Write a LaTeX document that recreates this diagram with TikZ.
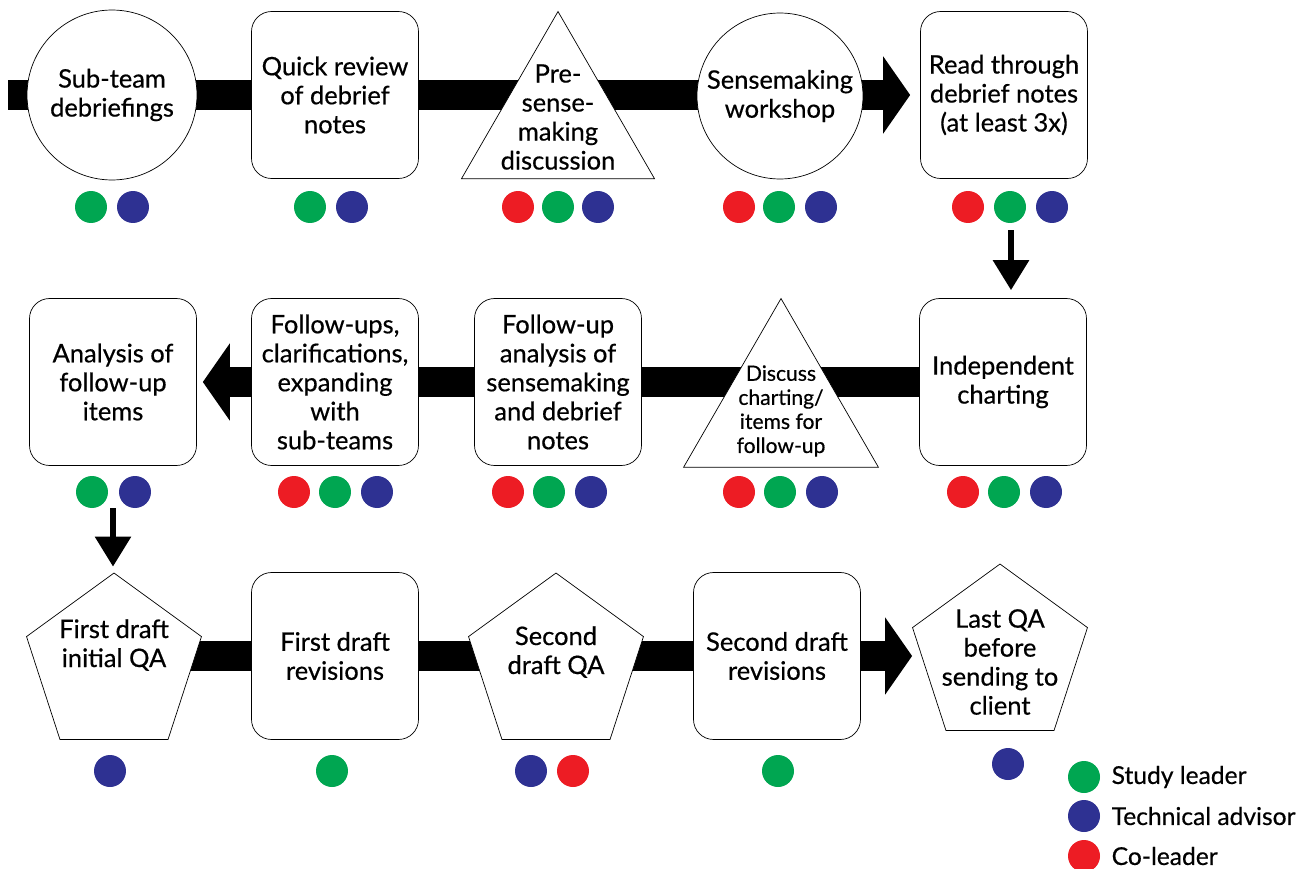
\documentclass[tikz,border=0pt]{standalone}
\usepackage{fontspec}
\setmainfont{Lato}[UprightFeatures={FakeBold=0.5}]
\usetikzlibrary{shapes.geometric,arrows.meta,backgrounds}
\definecolor{lead}{HTML}{00A651}
\definecolor{tech}{HTML}{2E3192}
\definecolor{colead}{HTML}{ED1C24}
\tikzset{
  stepbox/.style={draw, fill=white, rounded corners=0.4cm, minimum width=3.34cm, minimum height=3.34cm, inner sep=0pt, align=center, font=\fontsize{14.5}{16.5}\selectfont},
  meeting/.style={circle, draw, fill=white, inner sep=0pt, align=center, font=\fontsize{14.5}{16.5}\selectfont},
  talk/.style={regular polygon, regular polygon sides=3, draw, fill=white, minimum size=4.46cm, inner sep=0pt},
  qa/.style={regular polygon, regular polygon sides=5, draw, fill=white, minimum size=3.68cm, inner sep=0pt},
  inside/.style={align=center, inner sep=0pt, font=\fontsize{14.5}{16.5}\selectfont},
  bar/.style={line width=0.6cm},
  flowbar/.style={bar, -{Triangle[length=0.54cm, width=1.52cm]}},
  turn/.style={line width=0.12cm, -{Triangle[length=0.6cm, width=0.7cm]}},
  dot/.style={circle, minimum size=0.64cm, inner sep=0pt},
  keytext/.style={anchor=west, inner sep=0pt, font=\fontsize{14}{16.5}\selectfont}
}
\begin{document}
\begin{tikzpicture}[x=0.02cm, y=-0.02cm]
  \useasboundingbox (0,0) rectangle (1303,869);

  \node[meeting, minimum size=3.4cm] (debrief) at (112,95) {Sub-team\\debriefings};
  \node[stepbox] (quick) at (335,95) {Quick review\\of debrief\\notes};
  \node[talk, label={[inside, yshift=0.12cm]center:Pre-\\sense-\\making\\discussion}] (pre) at (558,123) {};
  \node[meeting, minimum size=3.32cm] (workshop) at (780,96) {Sensemaking\\workshop};
  \node[stepbox] (read) at (1004,95) {Read through\\debrief notes\\(at least 3x)};

  \node[stepbox] (analysis) at (113,382) {Analysis of\\follow-up\\items};
  \node[stepbox] (followups) at (335,382) {Follow-ups,\\clarifications,\\expanding\\with\\sub-teams};
  \node[stepbox] (fuanalysis) at (558,382) {Follow-up\\analysis of\\sensemaking\\and debrief\\notes};
  \node[talk, minimum size=4.5cm, label={[inside, font=\fontsize{12}{13.7}\selectfont]center:Discuss\\charting/\\items for\\follow-up}] (discuss) at (781,411) {};
  \node[stepbox] (indep) at (1003,382) {Independent\\charting};

  \node[qa, label={[inside, yshift=0.4cm]center:First draft\\initial QA}] (fq) at (114,665) {};
  \node[stepbox] (frev) at (335,656) {First draft\\revisions};
  \node[qa, label={[inside, yshift=0.26cm]center:Second\\draft QA}] (sq) at (556,665) {};
  \node[stepbox] (srev) at (777,656) {Second draft\\revisions};
  \node[qa, label={[inside, yshift=-0.12cm]center:Last QA\\before\\sending to\\client}] (lq) at (1000,656) {};

  \coordinate (in1) at (8,95);
  \coordinate (a1) at (1011,230);
  \coordinate (a2) at (113,508);

  \begin{scope}[on background layer]
    \draw[flowbar, shorten >=0.2cm] (in1) -- (in1 -| read.west);
    \draw[flowbar, shorten >=0.12cm] (indep.west) -- (analysis.east);
    \draw[flowbar] (fq.center |- frev) -- (frev -| lq.corner 2);
  \end{scope}

  \draw[turn, shorten >=0.16cm] (a1) -- (a1 |- indep.north);
  \draw[turn, shorten >=0.12cm] (a2) -- (a2 |- fq.corner 1);

  \foreach \i/\x/\y/\c in {1/91/207/lead,2/133/207/tech,3/310/207/lead,4/352/207/tech,
                           5/518/207/colead,6/558/207/lead,7/598/207/tech,
                           8/739/207/colead,9/779/207/lead,10/821/207/tech,
                           11/968/207/colead,12/1010/207/lead,13/1052/207/tech,
                           14/92/492/lead,15/135/492/tech,
                           16/294/492/colead,17/335/492/lead,18/377/492/tech,
                           19/508/492/colead,20/549/492/lead,21/591/492/tech,
                           22/739/492/colead,23/780/492/lead,24/822/492/tech,
                           25/963/492/colead,26/1004/492/lead,27/1046/492/tech,
                           28/110/771/tech,29/332/771/lead,30/531/771/tech,31/573/771/colead,
                           32/778/771/lead,33/1008/764/tech} {
    \node[dot, fill=\c] (d\i) at (\x,\y) {};
  }

  \node[dot, fill=lead] (k1) at (1084,777) {};
  \node[keytext] (t1) at ([xshift=0.22cm]k1.east) {Study leader};
  \node[dot, fill=tech] (k2) at (1084,816) {};
  \node[keytext] (t2) at ([xshift=0.22cm]k2.east) {Technical advisor};
  \node[dot, fill=colead] (k3) at (1084,856) {};
  \node[keytext] (t3) at ([xshift=0.22cm]k3.east) {Co-leader};
\end{tikzpicture}
\end{document}
